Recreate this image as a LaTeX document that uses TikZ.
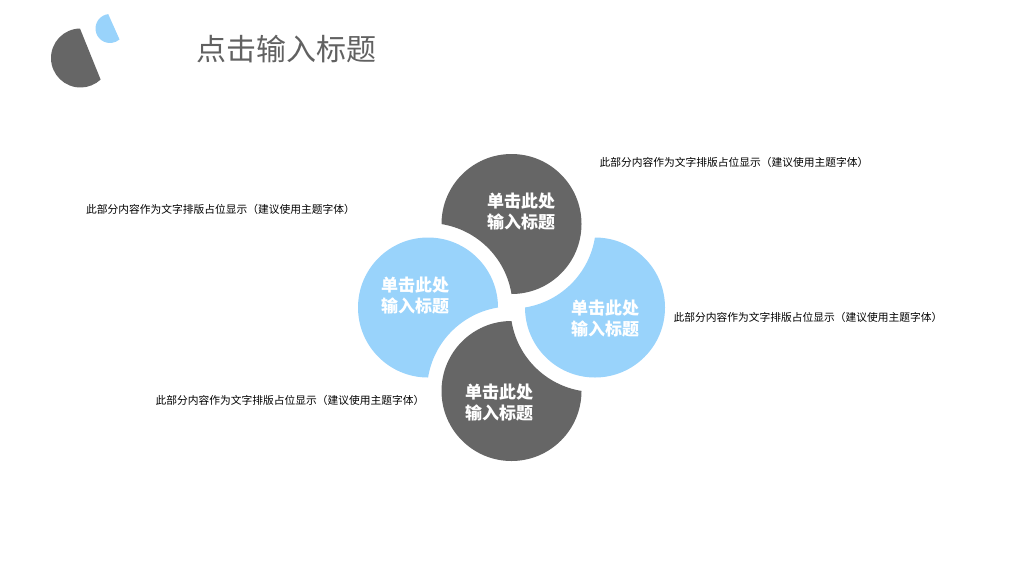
\documentclass[tikz,border=0pt]{standalone}
\usepackage{xcolor}
\usepackage{fontspec}
\setmainfont{Noto Sans CJK SC}
\definecolor{darkgrey}{HTML}{666666}
\definecolor{lightblue}{HTML}{99D3FB}
\tikzset{
    petallabel/.style={text=white, font=\fontsize{17}{21}\selectfont\bfseries, align=center, inner sep=0pt},
    sidetext/.style={text=black, font=\fontsize{10.75}{12}\selectfont, inner sep=0pt},
    titletext/.style={text=black!62, font=\fontsize{30}{34}\selectfont, inner sep=0pt}
}
\begin{document}
\begin{tikzpicture}[x=1pt,y=1pt]
\useasboundingbox (0,0) rectangle (1024,-576);

% Logo
\fill[darkgrey] (80.5,-58) ++(91:29.5) arc[start angle=91, end angle=313, radius=29.5] -- cycle;
\fill[lightblue] (110,-28.5) ++(97:14.5) arc[start angle=97, end angle=311, radius=14.5] -- cycle;

% Title
\node[titletext, anchor=west] (Title) at (196,-49) {点击输入标题};

% Petals
\foreach \a/\c in {0/darkgrey, -90/lightblue, -180/darkgrey, 90/lightblue}
{
    \begin{scope}[shift={(511.5,-307.5)}, rotate=\a]
        \fill[\c] (-70,83.5) arc[start angle=180, end angle=-90, radius=70]
            arc[start angle=9.2, end angle=80.8, radius=84.5] -- cycle;
    \end{scope}
}

% Petal labels
\foreach \i/\x/\y in {1/521/-211.5, 2/605/-318.5, 3/499/-402.5, 4/415/-295.5}
{
    \node[petallabel] (Petal-\i) at (\x,\y) {单击此处\\输入标题};
}

% Side texts
\foreach \i/\x/\y in {1/734/-162.3, 2/808/-317.3, 3/290/-400.3, 4/220.5/-209.3}
{
    \node[sidetext] (Side-\i) at (\x,\y) {此部分内容作为文字排版占位显示（建议使用主题字体）};
}

\end{tikzpicture}
\end{document}
